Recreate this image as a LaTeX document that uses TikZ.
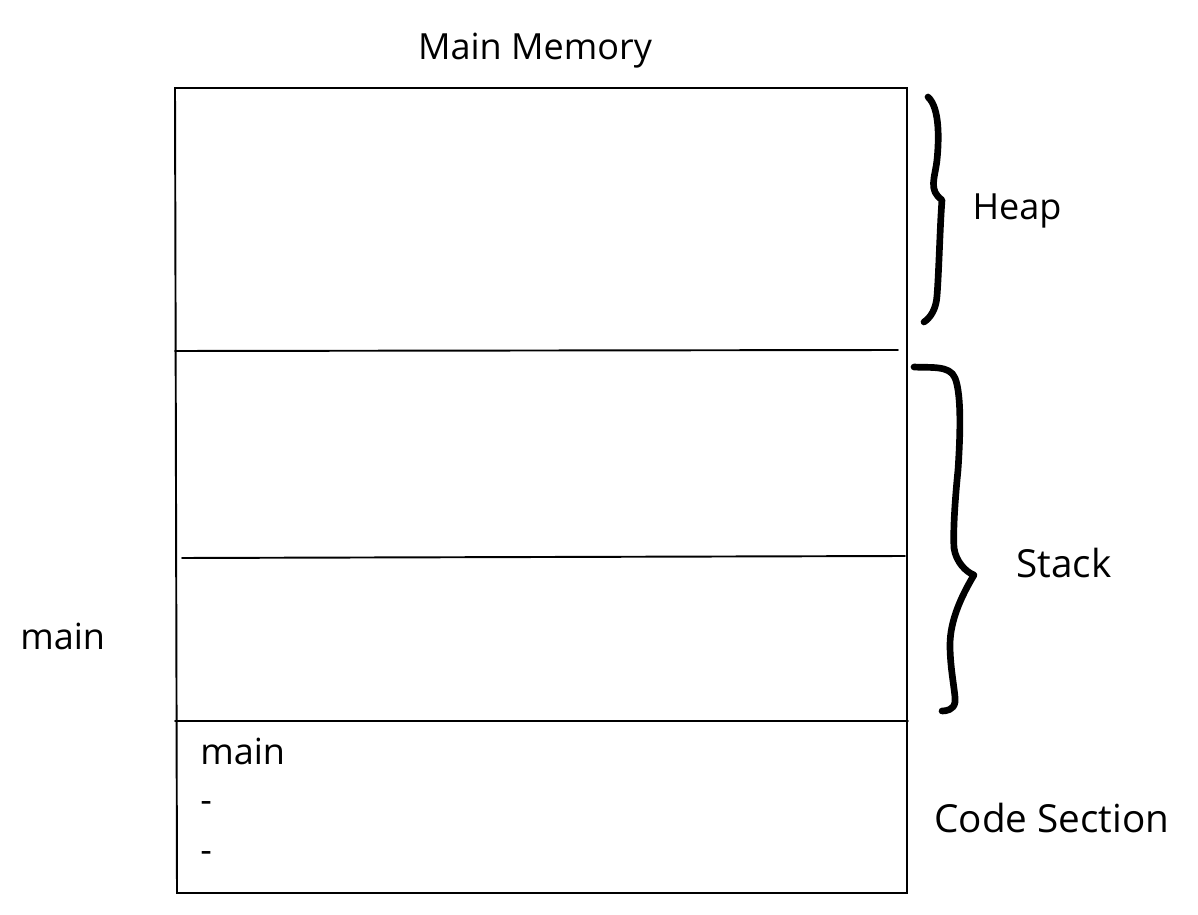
\documentclass[tikz,border=0pt]{standalone}
\usepackage{fontspec}
\setmainfont{Open Sans}
\begin{document}
\begin{tikzpicture}[x=0.02cm,y=-0.02cm,
  edge/.style={line width=1.1pt,line cap=round},
  brace/.style={line width=3.8pt,line cap=round,line join=round},
  lbl/.style={font=\fontsize{20.5}{24}\selectfont,inner sep=0pt},
  wide/.style={font=\fontsize{22}{26}\selectfont,inner sep=0pt}]
\useasboundingbox[fill=white] (0,0) rectangle (1198,915);
% memory box
\coordinate (tl) at (175,88);
\coordinate (tr) at (907,88);
\coordinate (br) at (907,893);
\coordinate (bl) at (177,893);
\draw[edge] (tl) -- (tr) -- (br) -- (bl) -- cycle;
\coordinate (h1a) at (175,351); \coordinate (h1b) at (898,350);
\coordinate (h2a) at (182,558); \coordinate (h2b) at (905,556);
\coordinate (h3a) at (175,721); \coordinate (h3b) at (908,721);
\draw[edge] (h1a) -- (h1b);
\draw[edge] (h2a) -- (h2b);
\draw[edge] (h3a) -- (h3b);
% heap brace
\draw[brace] (928,97) .. controls (940,108) and (939,140) .. (937,160)
  .. controls (935,178) and (928,190) .. (942,200)
  .. controls (940,225) and (939,270) .. (937,296)
  .. controls (936,310) and (930,318) .. (924,322);
% stack brace
\draw[brace] (914,367) .. controls (930,368) and (950,365) .. (955,378)
  .. controls (962,395) and (960,440) .. (958,470)
  .. controls (955,500) and (953,530) .. (954,548)
  .. controls (956,562) and (966,572) .. (974,575)
  .. controls (962,595) and (950,620) .. (950,645)
  .. controls (950,670) and (956,695) .. (955,702)
  .. controls (954,710) and (946,711) .. (942,711);
% labels
\node[lbl,anchor=base] (title) at (535,60) {Main Memory};
\node[lbl,anchor=base] (heap) at (1017,220) {Heap};
\node[wide,anchor=base] (stack) at (1064,578) {Stack};
\node[wide,anchor=base] (code) at (1052,832) {Code Section};
\node[lbl,anchor=base west] (mainout) at (20,650) {main};
\node[lbl,anchor=base west] (mainin) at (200,765) {main};
\node[lbl,anchor=base west] (d1) at (200,812) {-};
\node[lbl,anchor=base west] (d2) at (200,862) {-};
\end{tikzpicture}
\end{document}
